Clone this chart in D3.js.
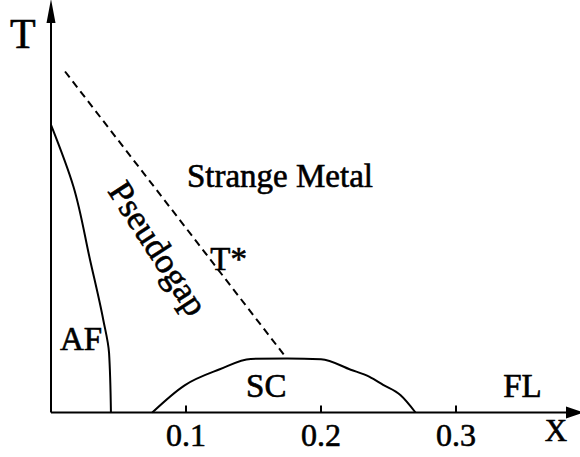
<!DOCTYPE html>
<html>
<head>
<meta charset="utf-8">
<script src="https://cdn.jsdelivr.net/npm/d3@7"></script>
<style>
  body { margin: 0; background: #fff; }
  svg text { font-family: 'Liberation Serif', 'Tinos', 'DejaVu Serif', serif; fill: #000; stroke: #000; stroke-width: 0.6px; }
</style>
</head>
<body>
<div id="chart"></div>
<script>
// phase boundaries as [doping x, T (arb. units)]
const afBoundary = [[0, 0.719], [0.0166, 0.565], [0.0289, 0.382], [0.0387, 0.232], [0.043, 0.149], [0.0444, 0]];
const tStarLine = [[0.0104, 0.8525], [0.174, 0.138]];
const scDome = [[0.075, 0], [0.099, 0.068], [0.125, 0.108], [0.148, 0.134], [0.175, 0.135], [0.2, 0.133],
                [0.222, 0.107], [0.236, 0.089], [0.246, 0.069], [0.259, 0.043], [0.27, 0]];
const xTicks = [0.1, 0.2, 0.3];
const tickLabels = ["0.1", "0.2", "0.3"];
const regionNames = ["Strange Metal", "T*", "AF", "SC", "FL"];
const regionX = [0.1007, 0.118, 0.0067, 0.1445, 0.335];
const regionT = [0.564, 0.357, 0.156, 0.04, 0.04];

const width = 580, height = 457;
const fontFamily = "'Liberation Serif', 'Tinos', 'DejaVu Serif', serif";

const svg = d3.select("#chart").append("svg")
    .attr("width", width)
    .attr("height", height);

const x = d3.scaleLinear().domain([0, 0.4]).range([51, 591]);
const y = d3.scaleLinear().domain([0, 1]).range([412.5, 12.5]);

const line = d3.line().x(d => x(d[0])).y(d => y(d[1]));

// axes with arrow heads
svg.append("line").attr("x1", x(0)).attr("x2", x(0)).attr("y1", y(0)).attr("y2", 18)
    .attr("stroke", "#000").attr("stroke-width", 2);
svg.append("path").attr("d", `M${x(0)},-1 L${x(0) - 4.5},23 L${x(0) + 4.5},23 Z`).attr("fill", "#000");

svg.append("line").attr("x1", x(0)).attr("x2", 570).attr("y1", y(0)).attr("y2", y(0))
    .attr("stroke", "#000").attr("stroke-width", 2);
svg.append("path").attr("d", `M584,${y(0)} L566,${y(0) - 6} L566,${y(0) + 6} Z`).attr("fill", "#000");

svg.selectAll(".tick").data(xTicks).enter().append("line")
    .attr("class", "tick")
    .attr("x1", d => x(d)).attr("x2", d => x(d))
    .attr("y1", y(0)).attr("y2", y(0) - 7)
    .attr("stroke", "#000").attr("stroke-width", 2);

svg.selectAll(".tick-label").data(xTicks).enter().append("text")
    .attr("class", "tick-label")
    .attr("x", d => x(d)).attr("y", 446)
    .attr("text-anchor", "middle")
    .attr("font-family", fontFamily)
    .attr("font-size", 32)
    .text((d, i) => tickLabels[i]);

svg.append("text").attr("x", 10).attr("y", 48).attr("font-family", fontFamily).attr("font-size", 42).text("T");
svg.append("text").attr("x", 556).attr("y", 441).attr("text-anchor", "middle")
    .attr("font-family", fontFamily).attr("font-size", 31).text("X");

// phase lines
svg.append("path").datum(afBoundary).attr("d", line.curve(d3.curveMonotoneY))
    .attr("fill", "none").attr("stroke", "#000").attr("stroke-width", 2);
svg.append("path").datum(scDome).attr("d", d3.line().x(d => x(d[0])).y(d => y(d[1])).curve(d3.curveMonotoneX))
    .attr("fill", "none").attr("stroke", "#000").attr("stroke-width", 2);
svg.append("path").datum(tStarLine).attr("d", d3.line().x(d => x(d[0])).y(d => y(d[1])))
    .attr("fill", "none").attr("stroke", "#000").attr("stroke-width", 2)
    .attr("stroke-dasharray", "7.5,5");

// region labels
regionNames.forEach((name, i) => {
    svg.append("text")
        .attr("x", x(regionX[i])).attr("y", y(regionT[i]))
        .attr("font-family", fontFamily)
        .attr("font-size", 33)
        .text(name);
});

svg.append("text")
    .attr("transform", `translate(157,249) rotate(57)`)
    .attr("text-anchor", "middle")
    .attr("dy", "0.3em")
    .attr("font-family", fontFamily)
    .attr("font-size", 35)
    .text("Pseudogap");
</script>
</body>
</html>
